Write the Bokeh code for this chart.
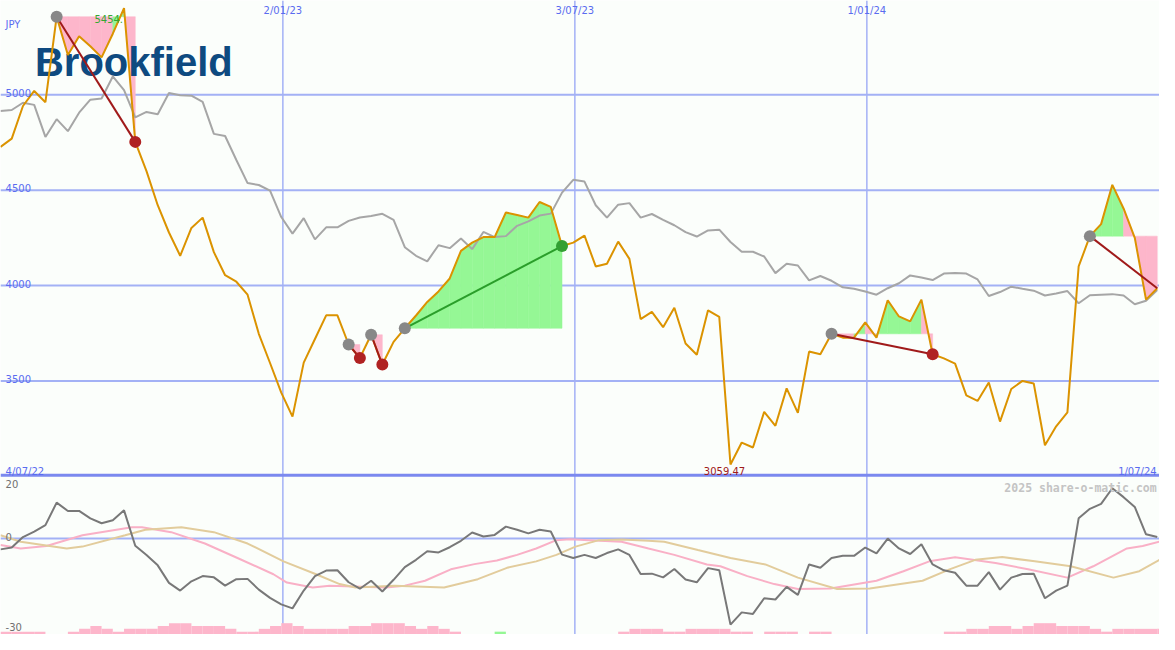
from datetime import date
from bokeh.plotting import figure
from bokeh.models import Range1d, Span
from bokeh.core.properties import value
from bokeh.embed import file_html
from bokeh.resources import INLINE

# ---------------- data ----------------
START = date(2022, 7, 10)                       # date of first weekly point
grid_dates = [date(2023, 1, 2), date(2023, 7, 3), date(2024, 1, 1)]
grid_labels = ["2/01/23", "3/07/23", "1/01/24"]
first_label = "4/07/22"
last_label = "1/07/24"
price_levels = [3500, 4000, 4500, 5000]
osc_labels = ["20", "0", "-30"]
currency = "JPY"
company = "Brookfield"
credit = "2025 share-o-matic.com"
low_label = "3059.47"
high_label = "5454."

# weekly close (JPY)
price = [4727, 4770, 4941, 5020, 4961, 5409, 5208, 5307, 5254, 5196,
         5320, 5454, 4753, 4600, 4421, 4278, 4156, 4302, 4356, 4175,
         4054, 4020, 3952, 3747, 3594, 3439, 3313, 3596, 3720, 3844,
         3844, 3691, 3620, 3742, 3586, 3705, 3776, 3843, 3914, 3969,
         4037, 4182, 4225, 4254, 4254, 4383, 4370, 4356, 4438, 4412,
         4207, 4225, 4262, 4100, 4114, 4230, 4140, 3824, 3862, 3782,
         3884, 3696, 3637, 3870, 3836, 3062, 3177, 3151, 3338, 3265,
         3461, 3333, 3654, 3640, 3747, 3727, 3727, 3807, 3727, 3923,
         3838, 3812, 3926, 3640, 3618, 3591, 3424, 3395, 3492, 3287,
         3458, 3500, 3487, 3163, 3262, 3335, 4100, 4259, 4322, 4528,
         4404, 4250, 3926, 3986]

# comparison index rebased to price scale (grey line)
bench = [4915, 4920, 4958, 4947, 4779, 4872, 4809, 4906, 4974, 4980,
         5096, 5024, 4881, 4910, 4898, 5009, 4997, 4995, 4963, 4795,
         4784, 4658, 4537, 4527, 4497, 4359, 4272, 4353, 4242, 4305,
         4305, 4339, 4357, 4364, 4376, 4344, 4201, 4156, 4127, 4211,
         4196, 4247, 4191, 4281, 4254, 4259, 4313, 4336, 4367, 4377,
         4487, 4554, 4545, 4421, 4356, 4424, 4432, 4356, 4375, 4344,
         4316, 4280, 4257, 4289, 4293, 4228, 4177, 4177, 4152, 4065,
         4114, 4105, 4027, 4050, 4025, 3991, 3983, 3969, 3952, 3986,
         4012, 4053, 4042, 4029, 4063, 4066, 4063, 4032, 3945, 3966,
         3994, 3983, 3973, 3948, 3958, 3971, 3907, 3949, 3952, 3955,
         3948, 3902, 3920, 3976]

# oscillator (lower panel)
osc = [-3.5, -2.9, 0.5, 2.3, 4.4, 11.7, 9.0, 9.0, 6.6, 5.0,
       6.0, 9.2, -2.3, -5.3, -8.7, -14.4, -16.9, -13.9, -12.2, -12.6,
       -15.3, -13.2, -13.1, -16.6, -19.3, -21.4, -22.7, -16.9, -12.2, -10.4,
       -10.3, -14.2, -16.3, -13.7, -17.2, -13.4, -9.3, -6.9, -4.1, -4.5,
       -2.8, -0.7, 2.0, 0.7, 1.2, 3.9, 2.9, 1.7, 2.9, 2.3,
       -5.2, -6.3, -5.3, -6.3, -4.7, -3.5, -5.3, -11.5, -11.4, -12.6,
       -9.9, -13.3, -14.2, -9.6, -10.3, -28.0, -24.0, -24.5, -19.4, -19.8,
       -15.7, -18.3, -8.4, -9.5, -6.3, -5.6, -5.6, -2.9, -4.8, 0.0,
       -3.2, -5.0, -1.8, -8.4, -10.3, -11.1, -15.3, -15.3, -10.9, -16.6,
       -12.7, -11.5, -11.4, -19.4, -16.9, -15.3, 6.6, 9.7, 11.3, 16.4,
       13.5, 10.3, 1.4, 0.5]

# fast average of oscillator (pink), read at week positions
fast_x = [0, 1.8, 4.1, 7.3, 11.7, 12.6, 15.2, 18.2, 21.1, 24.3, 25.5, 27.8, 29.3,
          34.3, 36, 37.8, 40.1, 42.2, 44.2, 46, 47.7, 49.5, 50.7, 52.4, 55.3, 57.7,
          60, 62.9, 64.1, 66.5, 68.9, 71, 73.9, 78, 80.4, 82.7, 85, 88.6, 91.5, 95,
          97.3, 100.3, 101.7, 103.2]
fast_y = [-2.1, -3.2, -2.4, 1.1, 3.7, 3.7, 2.1, -1.6, -6.3, -11.6, -14.3, -15.9, -15.3,
          -15.9, -15.3, -13.7, -10.0, -8.3, -7.1, -5.3, -3.2, -0.5, -0.2, -0.5, -1.0, -3.2,
          -5.3, -8.4, -9.0, -12.2, -14.8, -16.4, -16.2, -13.7, -10.6, -7.4, -6.1, -7.9, -10.0, -12.7,
          -9.0, -3.2, -2.4, -1.0]

# slow average of oscillator (tan)
slow_x = [0, 1.8, 5.9, 7.3, 11.1, 12.9, 16.1, 19, 22, 25.2, 28.1, 30.2, 31.6, 35.1,
          39.5, 42.5, 45.1, 47.7, 49.5, 51.2, 53.3, 55.3, 57.7, 59.1, 62.1, 65, 68.1,
          71, 74.5, 77.4, 82.1, 84.5, 86.8, 89.2, 92.1, 95.3, 99.1, 101.4, 103.2]
slow_y = [1.1, -1.0, -3.2, -2.6, 1.1, 2.9, 3.7, 2.1, -1.6, -7.4, -11.6, -14.8, -15.9, -15.3,
          -15.9, -13.2, -9.5, -7.4, -5.3, -2.6, -0.5, -0.3, -0.7, -1.0, -3.7, -6.3, -8.4,
          -12.7, -16.4, -16.2, -13.7, -10.0, -6.9, -6.0, -7.4, -9.0, -12.7, -10.6, -6.9]

# weekly histogram levels at panel bottom
bars = [1, 1, 1, 1, 0, 0, 1, 2, 3, 2,
        1, 2, 2, 2, 3, 4, 4, 3, 3, 3,
        2, 1, 1, 2, 3, 4, 3, 2, 2, 2,
        2, 3, 3, 4, 4, 4, 3, 2, 3, 2,
        1, 0, 0, 0, 1, 0, 0, 0, 0, 0,
        0, 0, 0, 0, 0, 1, 2, 2, 2, 1,
        1, 2, 2, 2, 2, 1, 1, 0, 1, 1,
        1, 0, 1, 1, 0, 0, 0, 0, 0, 0,
        0, 0, 0, 0, 1, 1, 2, 2, 3, 3,
        2, 3, 4, 4, 3, 3, 3, 2, 1, 2,
        2, 2, 2, 2]
bars_up = [44]

# trend segments: (start week, end week, closed)
segments = [(5, 12, True), (31, 32, True), (33, 34, True), (36, 50, True),
            (74, 83, True), (97, 103, False)]

# ---------------- style ----------------
BG = "#fbfefb"
GRID = "#a3b1f5"
SEP = "#7b89ef"
AXIS_TXT = "#5a6cf0"
ORANGE = "#db9300"
GREY = "#a6a6a6"
OSC = "#787878"
FAST = "#f9b0c6"
SLOW = "#e2cc9c"
PINK_FILL = "#fdb6cb"
GREEN_FILL = "#95f795"
RED = "#a01a1a"
GREEN = "#2a9e2a"
FONT = value("DejaVu Sans")

weeks = list(range(len(price)))
grid_x = [(d - START).days / 7 for d in grid_dates]
X_END = 103.2
P_LO, P_HI = 2171, 5494
OSC_TOP = 20.6

p = figure(width=1159, height=634, x_range=Range1d(0, X_END), y_range=Range1d(P_LO, P_HI),
           output_backend="svg", toolbar_location=None, min_border=0,
           x_axis_location=None, y_axis_location=None,
           background_fill_color=BG, border_fill_color=BG, outline_line_color=None)
p.xgrid.grid_line_color = None
p.ygrid.grid_line_color = None
p.grid.visible = False
p.extra_y_ranges = {"osc": Range1d(-31.2, 175.1), "vol": Range1d(0, 224)}

for lv in price_levels:
    p.add_layout(Span(location=lv, dimension="width", line_color=GRID, line_width=2, level="underlay"))
for gxv in grid_x:
    p.add_layout(Span(location=gxv, dimension="height", line_color=GRID, line_width=1.5, level="underlay"))
p.add_layout(Span(location=0, dimension="width", y_range_name="osc", line_color=GRID,
                  line_width=2, level="underlay"))
p.add_layout(Span(location=OSC_TOP, dimension="width", y_range_name="osc", line_color=SEP,
                  line_width=3, level="underlay"))

# trend fills
fxs, fys, fcs = [], [], []
for s, e, closed in segments:
    L = price[s]
    for i in range(s, e):
        fxs.append([i, i, i + 1, i + 1])
        fys.append([L, price[i], price[i + 1], L])
        fcs.append(GREEN_FILL if price[i + 1] > L else PINK_FILL)
p.patches(fxs, fys, fill_color=fcs, line_color=fcs, line_width=0.5)

# histogram
bl, br, bt, bc = [], [], [], []
for i, h in enumerate(bars):
    if h > 0:
        bl.append(i); br.append(min(i + 1, X_END)); bt.append(h)
        bc.append(GREEN_FILL if i in bars_up else PINK_FILL)
p.quad(left=bl, right=br, bottom=0, top=bt, y_range_name="vol", fill_color=bc, line_color=None)

# company name
p.text(x=[3.07], y=[5170], text=[company], text_font=value("Liberation Sans"),
       text_font_style="bold", text_font_size="40px", text_color="#0e4a80",
       text_baseline="alphabetic")

# lines
p.line(weeks, bench, line_color=GREY, line_width=2)
p.line(weeks, price, line_color=ORANGE, line_width=2)
p.line(fast_x, fast_y, y_range_name="osc", line_color=FAST, line_width=2)
p.line(slow_x, slow_y, y_range_name="osc", line_color=SLOW, line_width=2)
p.line(weeks, osc, y_range_name="osc", line_color=OSC, line_width=2)

# trend lines and markers
for s, e, closed in segments:
    up = price[e] > price[s]
    p.segment(x0=[s], y0=[price[s]], x1=[e], y1=[price[e]],
              line_color=GREEN if up else RED, line_width=2)
    p.scatter([s], [price[s]], size=12, fill_color="#888888", line_color=None)
    if closed:
        p.scatter([e], [price[e]], size=12, fill_color="#33a033" if up else "#b02222",
                  line_color=None)

# texts
lab_x = 0.45
p.text(x=[lab_x] * len(price_levels), y=price_levels, text=[str(v) for v in price_levels],
       text_font=FONT, text_font_size="10px", text_color=AXIS_TXT,
       text_baseline="alphabetic", y_offset=-2)
p.text(x=[lab_x], y=[5367], text=[currency], text_font=FONT, text_font_size="10px",
       text_color=AXIS_TXT, text_baseline="alphabetic")
p.text(x=grid_x, y=[P_HI] * len(grid_x), text=grid_labels, text_font=FONT,
       text_font_size="10px", text_color=AXIS_TXT, text_align="center",
       text_baseline="top", y_offset=4)
p.text(x=[lab_x], y=[OSC_TOP], text=[first_label], y_range_name="osc", text_font=FONT,
       text_font_size="10px", text_color=AXIS_TXT, text_baseline="alphabetic", y_offset=-4)
p.text(x=[102.95], y=[OSC_TOP], text=[last_label], y_range_name="osc", text_font=FONT,
       text_font_size="10px", text_color=AXIS_TXT, text_align="right",
       text_baseline="alphabetic", y_offset=-4)
imin = price.index(min(price))
p.text(x=[imin], y=[OSC_TOP], text=[low_label], y_range_name="osc", text_font=FONT,
       text_font_size="10px", text_color=RED, text_align="center",
       text_baseline="alphabetic", y_offset=-4, x_offset=-6)
imax = price.index(max(price))
p.text(x=[imax], y=[price[imax]], text=[high_label], text_font=FONT, text_font_size="10px",
       text_color="#33a833", text_align="right", text_baseline="top", y_offset=7, x_offset=-1)
p.text(x=[102.95], y=[16.4], text=[credit], y_range_name="osc",
       text_font=value("DejaVu Sans Mono"), text_font_style="bold", text_font_size="11.5px",
       text_color="#c4c4c4", text_align="right", text_baseline="alphabetic")
p.text(x=[lab_x], y=[OSC_TOP], text=[osc_labels[0]], y_range_name="osc", text_font=FONT,
       text_font_size="10px", text_color="#707070", text_baseline="top", y_offset=5)
p.text(x=[lab_x], y=[0], text=[osc_labels[1]], y_range_name="osc", text_font=FONT,
       text_font_size="10px", text_color="#707070", text_baseline="alphabetic", y_offset=-2)
p.text(x=[lab_x], y=[-28.6], text=[osc_labels[2]], y_range_name="osc", text_font=FONT,
       text_font_size="10px", text_color="#707070", text_baseline="alphabetic")

open("out.html", "w").write(file_html(p, INLINE))
